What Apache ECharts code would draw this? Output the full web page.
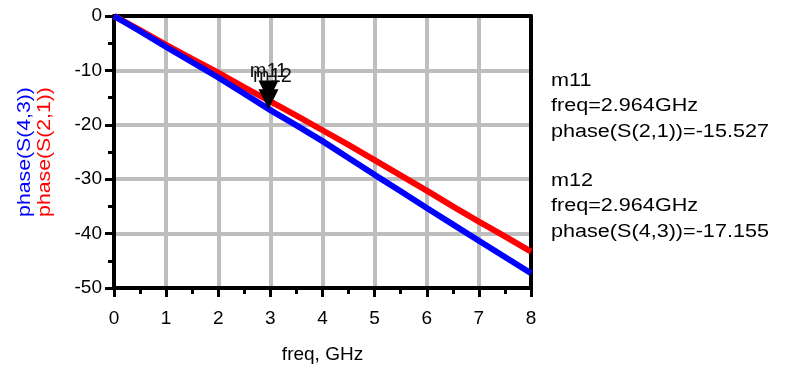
<!DOCTYPE html>
<html><head><meta charset="utf-8">
<script src="https://cdn.jsdelivr.net/npm/echarts@6/dist/echarts.min.js"></script>
<style>html,body{margin:0;padding:0;background:#fff}#c{width:786px;height:373px}</style>
</head><body><div id="c"></div>
<script>
var freq = [0, 0.5, 1, 1.5, 2, 2.5, 3, 3.5, 4, 4.5, 5, 5.5, 6, 6.5, 7, 7.5, 8];
var phaseS21 = [0, -2.6, -5.3, -7.9, -10.4, -13.1, -15.7, -18.3, -21.0, -23.7, -26.5, -29.3, -32.1, -35.0, -37.8, -40.5, -43.3];
var phaseS43 = [0, -2.8, -5.7, -8.5, -11.3, -14.3, -17.3, -20.1, -23.0, -26.1, -29.2, -32.2, -35.3, -38.3, -41.3, -44.3, -47.3];
var m11 = {name: 'm11', freq: 2.964, value: -15.527};
var m12 = {name: 'm12', freq: 2.964, value: -17.155};
var xTicks = [0, 1, 2, 3, 4, 5, 6, 7, 8];
var yTicks = [0, -10, -20, -30, -40, -50];

var FONT = 'Liberation Sans';
function pairs(xs, ys){ return xs.map(function(x,i){ return [x, ys[i]]; }); }

var chart = echarts.init(document.getElementById('c'), null, {renderer: 'canvas'});
var sx = 1.2;
function gtext(txt, x, y, color){
  return {type: 'text', x: x, y: y, scaleX: sx, style: {text: txt, fontFamily: FONT, fontSize: 18, fill: color || '#000', textVerticalAlign: 'bottom'}};
}
var borderAxis = {axisLine: {show: true, onZero: false, lineStyle: {color: '#000', width: 4}},
  axisTick: {show: false}, axisLabel: {show: false}, splitLine: {show: false}};
chart.setOption({
  animation: false,
  grid: {left: 114, right: 255, top: 16, bottom: 85, show: false},
  xAxis: [{
    type: 'value', min: 0, max: 8, interval: 1,
    axisLine: {show: true, onZero: false, lineStyle: {color: '#000', width: 4}},
    axisTick: {show: true, inside: false, length: 9, lineStyle: {color: '#000', width: 3}},
    minorTick: {show: true, splitNumber: 2, length: 6, lineStyle: {color: '#000', width: 3}},
    splitLine: {show: true, showMinLine: false, showMaxLine: false, lineStyle: {color: '#bebebe', width: 4}},
    axisLabel: {fontFamily: FONT, fontSize: 19, color: '#000', margin: 21,
      formatter: function(v){ return xTicks.indexOf(v) >= 0 ? String(v) : ''; }},
    name: 'freq, GHz', nameLocation: 'middle', nameGap: 57,
    nameTextStyle: {fontFamily: FONT, fontSize: 19, color: '#000'}
  }, Object.assign({type: 'value', min: 0, max: 8, position: 'top'}, borderAxis)],
  yAxis: [{
    type: 'value', min: -50, max: 0, interval: 10,
    axisLine: {show: true, onZero: false, lineStyle: {color: '#000', width: 4}},
    axisTick: {show: true, length: 9, lineStyle: {color: '#000', width: 3}},
    minorTick: {show: true, splitNumber: 2, length: 6, lineStyle: {color: '#000', width: 3}},
    splitLine: {show: true, showMinLine: false, showMaxLine: false, lineStyle: {color: '#bebebe', width: 4}},
    axisLabel: {fontFamily: FONT, fontSize: 19, color: '#000', margin: 12,
      formatter: function(v){ return yTicks.indexOf(v) >= 0 ? String(v) : ''; }}
  }, Object.assign({type: 'value', min: -50, max: 0, position: 'right'}, borderAxis)],
  series: [
    {type: 'line', name: 'phase(S(2,1))', data: pairs(freq, phaseS21), showSymbol: false,
      lineStyle: {color: '#ff0000', width: 6}, itemStyle: {color: '#ff0000'}, z: 3,
      markPoint: {symbol: 'triangle', symbolSize: [20, 20], symbolRotate: 180, symbolOffset: [0, -10],
        itemStyle: {color: '#000'},
        label: {show: true, position: 'inside', offset: [0, -19], formatter: m11.name, fontFamily: FONT, fontSize: 20, color: '#111'},
        data: [{coord: [m11.freq, m11.value]}]}},
    {type: 'line', name: 'phase(S(4,3))', data: pairs(freq, phaseS43), showSymbol: false,
      lineStyle: {color: '#0000ff', width: 6}, itemStyle: {color: '#0000ff'}, z: 4,
      markPoint: {symbol: 'triangle', symbolSize: [20, 20], symbolRotate: 180, symbolOffset: [0, -10],
        itemStyle: {color: '#000'},
        label: {show: true, position: 'inside', offset: [4, -23], formatter: m12.name, fontFamily: FONT, fontSize: 20, color: '#111'},
        data: [{coord: [m12.freq, m12.value]}]}}
  ],
  graphic: [
    {type: 'text', x: 25, y: 152, rotation: Math.PI/2, scaleX: 1.18,
      style: {text: 'phase(S(4,3))', fontFamily: FONT, fontSize: 18, fill: '#0000ff', textAlign: 'center', textVerticalAlign: 'middle'}},
    {type: 'text', x: 45, y: 152, rotation: Math.PI/2, scaleX: 1.18,
      style: {text: 'phase(S(2,1))', fontFamily: FONT, fontSize: 18, fill: '#ff0000', textAlign: 'center', textVerticalAlign: 'middle'}},
    gtext(m11.name, 551, 90),
    gtext('freq=' + m11.freq + 'GHz', 551, 115),
    gtext('phase(S(2,1))=' + m11.value, 551, 141),
    gtext(m12.name, 551, 190),
    gtext('freq=' + m12.freq + 'GHz', 551, 215),
    gtext('phase(S(4,3))=' + m12.value, 551, 241)
  ]
});
</script></body></html>
